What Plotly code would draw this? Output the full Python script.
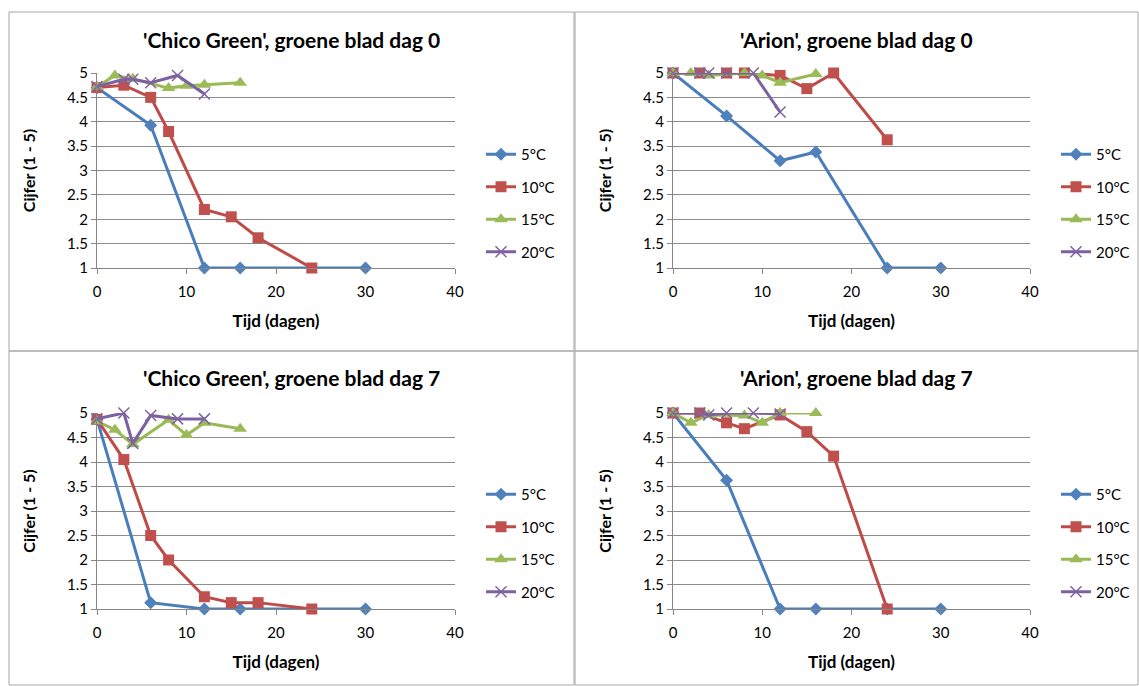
import plotly.graph_objects as go

# ---------------- data ----------------
titles = ["'Chico Green', groene blad dag 0", "'Arion', groene blad dag 0",
          "'Chico Green', groene blad dag 7", "'Arion', groene blad dag 7"]
series_names = ["5°C", "10°C", "15°C", "20°C"]

# Panel 1: 'Chico Green', dag 0
p1_t5 = [0, 6, 12, 16, 30]
p1_v5 = [4.7, 3.93, 1, 1, 1]
p1_t10 = [0, 3, 6, 8, 12, 15, 18, 24]
p1_v10 = [4.7, 4.75, 4.5, 3.8, 2.2, 2.05, 1.62, 1]
p1_t15 = [0, 2, 4, 8, 10, 12, 16]
p1_v15 = [4.72, 4.95, 4.88, 4.69, 4.74, 4.76, 4.8]
p1_t20 = [0, 3, 4, 6, 9, 12]
p1_v20 = [4.72, 4.87, 4.87, 4.8, 4.95, 4.57]

# Panel 2: 'Arion', dag 0
p2_t5 = [0, 6, 12, 16, 24, 30]
p2_v5 = [5, 4.12, 3.2, 3.38, 1, 1]
p2_t10 = [0, 3, 6, 8, 12, 15, 18, 24]
p2_v10 = [5, 5, 5, 5, 4.95, 4.68, 5, 3.63]
p2_t15 = [0, 2, 4, 8, 10, 12, 16]
p2_v15 = [5, 5, 4.95, 5, 4.95, 4.8, 4.98]
p2_t20 = [0, 3, 4, 6, 9, 12]
p2_v20 = [5, 5, 5, 5, 5, 4.2]

# Panel 3: 'Chico Green', dag 7
p3_t5 = [0, 6, 12, 16, 30]
p3_v5 = [4.87, 1.13, 1, 1, 1]
p3_t10 = [0, 3, 6, 8, 12, 15, 18, 24]
p3_v10 = [4.87, 4.05, 2.5, 2, 1.25, 1.13, 1.13, 1]
p3_t15 = [0, 2, 4, 8, 10, 12, 16]
p3_v15 = [4.83, 4.66, 4.36, 4.86, 4.55, 4.8, 4.68]
p3_t20 = [0, 3, 4, 6, 9, 12]
p3_v20 = [4.88, 5, 4.38, 4.95, 4.88, 4.88]

# Panel 4: 'Arion', dag 7
p4_t5 = [0, 6, 12, 16, 24, 30]
p4_v5 = [5, 3.63, 1, 1, 1, 1]
p4_t10 = [0, 3, 6, 8, 12, 15, 18, 24]
p4_v10 = [5, 5, 4.8, 4.68, 4.96, 4.62, 4.12, 1]
p4_t15 = [0, 2, 4, 8, 10, 12, 16]
p4_v15 = [5, 4.8, 4.96, 4.95, 4.8, 5, 5]
p4_t20 = [0, 3, 4, 6, 9, 12]
p4_v20 = [5, 5, 4.96, 5, 5, 4.98]

x_ticks = [0, 10, 20, 30, 40]
y_ticks = [1, 1.5, 2, 2.5, 3, 3.5, 4, 4.5, 5]
x_title = "Tijd (dagen)"
y_title = "Cijfer (1 - 5)"

panels = [
    [(p1_t5, p1_v5), (p1_t10, p1_v10), (p1_t15, p1_v15), (p1_t20, p1_v20)],
    [(p2_t5, p2_v5), (p2_t10, p2_v10), (p2_t15, p2_v15), (p2_t20, p2_v20)],
    [(p3_t5, p3_v5), (p3_t10, p3_v10), (p3_t15, p3_v15), (p3_t20, p3_v20)],
    [(p4_t5, p4_v5), (p4_t10, p4_v10), (p4_t15, p4_v15), (p4_t20, p4_v20)],
]

# ---------------- styling ----------------
W, H = 1139, 686
FONT = "Lato"
line_colors = ["#4A7EBB", "#BE4B48", "#98B954", "#7D60A0"]
marker_colors = ["#4F81BD", "#C0504D", "#9BBB59", "#8064A2"]
symbols = ["diamond", "square", "triangle-up", "x-thin"]
sizes = [10, 11, 12, 11]

# plot-area pixel boxes (left, right, top, bottom)
plot_boxes = [(97, 455, 73, 268), (673, 1030, 73, 268),
              (97, 455, 413, 609), (673, 1030, 413, 609)]
# outer chart boxes
chart_boxes = [(9, 574, 12, 351), (575, 1138, 12, 351),
               (9, 574, 351, 685), (575, 1138, 351, 685)]


def px(x):
    return x / W


def py(y):
    return 1 - y / H


fig = go.Figure()
legend_keys = ["legend", "legend2", "legend3", "legend4"]

for i, panel in enumerate(panels):
    xa = "x" if i == 0 else f"x{i+1}"
    ya = "y" if i == 0 else f"y{i+1}"
    for j, (t, v) in enumerate(panel):
        mk = dict(symbol=symbols[j], size=sizes[j], color=marker_colors[j])
        if symbols[j] == "x-thin":
            mk["line"] = dict(color=marker_colors[j], width=1.5)
        fig.add_trace(go.Scatter(
            x=t, y=v, mode="lines+markers", name=series_names[j],
            line=dict(color=line_colors[j], width=3),
            marker=mk, xaxis=xa, yaxis=ya, cliponaxis=False,
            legend=legend_keys[i], legendgroup=f"g{i}_{j}",
        ))

layout = dict(
    template="none",
    width=W, height=H, margin=dict(l=0, r=0, t=0, b=0, autoexpand=False),
    paper_bgcolor="white", plot_bgcolor="white",
    font=dict(family=FONT, size=15, color="black"),
    shapes=[], annotations=[],
)

for i, (l, r, t, b) in enumerate(plot_boxes):
    sx = "" if i == 0 else str(i + 1)
    layout[f"xaxis{sx}"] = dict(
        domain=[px(l), px(r)], range=[0, 40], tickvals=x_ticks,
        showline=True, linecolor="#868686", linewidth=1,
        ticks="outside", ticklen=5, tickcolor="#868686", ticklabelstandoff=5,
        showgrid=False, zeroline=False, anchor=f"y{sx}", automargin=False,
        tickfont=dict(size=15, family=FONT),
        title=dict(text=f"<b>{x_title}</b>", standoff=16,
                   font=dict(size=17, family=FONT)),
    )
    layout[f"yaxis{sx}"] = dict(
        domain=[py(b), py(t)], range=[1, 5], tickvals=y_ticks,
        showline=True, linecolor="#868686", linewidth=1,
        ticks="outside", ticklen=5, tickcolor="#868686",
        showgrid=True, gridcolor="#8C8C8C", gridwidth=1, zeroline=False,
        anchor=f"x{sx}", automargin=False, tickfont=dict(size=15, family=FONT),
        title=dict(text=f"<b>{y_title}</b>", standoff=27,
                   font=dict(size=16, family=FONT)),
    )
    # legend
    key = legend_keys[i]
    layout[key] = dict(
        x=px(r + 26), y=py(t + 65), xanchor="left", yanchor="top",
        bgcolor="rgba(0,0,0,0)", font=dict(size=15, family=FONT),
        tracegroupgap=10, itemwidth=30,
    )
    # title
    cl, cr, ct, cb = chart_boxes[i]
    layout["annotations"].append(dict(
        text=f"<b>{titles[i]}</b>", x=px((cl + cr) / 2), y=py(ct + 27),
        xref="paper", yref="paper", showarrow=False,
        xanchor="center", yanchor="middle",
        font=dict(size=21, family=FONT, color="black"),
    ))
    layout["shapes"].append(dict(
        type="rect", xref="paper", yref="paper",
        x0=px(cl), x1=px(cr), y0=py(cb), y1=py(ct),
        line=dict(color="#A6A6A6", width=1), fillcolor="rgba(0,0,0,0)",
    ))

fig.update_layout(**layout)
fig.write_html(
    "out.html",
    config={"responsive": False, "displayModeBar": False},
    post_script="document.body.style.margin='0';document.body.style.padding='0';",
)
